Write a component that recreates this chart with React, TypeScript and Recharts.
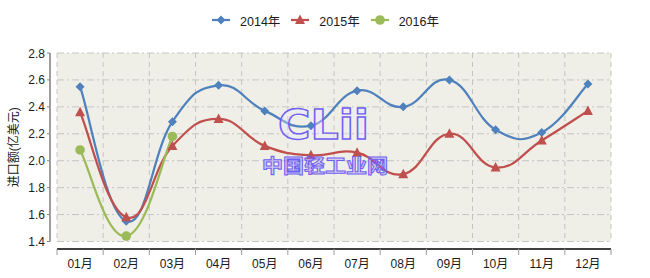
import React from 'react';
import {
  LineChart,
  Line,
  XAxis,
  YAxis,
  CartesianGrid,
  Legend,
} from 'recharts';

const MONTHS = ['01月', '02月', '03月', '04月', '05月', '06月', '07月', '08月', '09月', '10月', '11月', '12月'];
const IMPORTS_2014 = [2.55, 1.55, 2.29, 2.56, 2.37, 2.26, 2.52, 2.4, 2.6, 2.23, 2.21, 2.57];
const IMPORTS_2015 = [2.36, 1.58, 2.11, 2.31, 2.11, 2.04, 2.06, 1.9, 2.2, 1.95, 2.15, 2.37];
const IMPORTS_2016 = [2.08, 1.44, 2.18, null, null, null, null, null, null, null, null, null];
const Y_TICKS = [1.4, 1.6, 1.8, 2.0, 2.2, 2.4, 2.6, 2.8];

const SERIES = [
  { key: 'y2014', name: '2014年', color: '#4f81bd', shape: 'diamond' },
  { key: 'y2015', name: '2015年', color: '#c0504d', shape: 'triangle' },
  { key: 'y2016', name: '2016年', color: '#9bbb59', shape: 'circle' },
];

const data = MONTHS.map((m, i) => ({
  month: m,
  y2014: IMPORTS_2014[i],
  y2015: IMPORTS_2015[i],
  y2016: IMPORTS_2016[i],
}));

const W = 650;
const H = 278;
const MARGIN = { top: 33, right: 39, bottom: 0, left: 0 };
const Y_AXIS_W = 57;
const X_AXIS_H = 36.5;
const LEGEND_H = 20;
const PLOT_W = W - MARGIN.right - Y_AXIS_W;
const PLOT_H = H - MARGIN.top - LEGEND_H - X_AXIS_H;
const BAND = PLOT_W / MONTHS.length;
const FONT = "'Liberation Sans', 'Noto Sans CJK SC', sans-serif";

// Excel style smoothed line (bezier through the points)
const excelSmooth = (context: any) => {
  let pts: number[][] = [];
  const k = 0.22;
  return {
    areaStart() {},
    areaEnd() {},
    lineStart() {
      pts = [];
    },
    point(x: number, y: number) {
      pts.push([+x, +y]);
    },
    lineEnd() {
      if (!pts.length) return;
      context.moveTo(pts[0][0], pts[0][1]);
      for (let i = 0; i < pts.length - 1; i++) {
        const p0 = pts[Math.max(i - 1, 0)];
        const p1 = pts[i];
        const p2 = pts[i + 1];
        const p3 = pts[Math.min(i + 2, pts.length - 1)];
        context.bezierCurveTo(
          p1[0] + (p2[0] - p0[0]) * k,
          p1[1] + (p2[1] - p0[1]) * k,
          p2[0] - (p3[0] - p1[0]) * k,
          p2[1] - (p3[1] - p1[1]) * k,
          p2[0],
          p2[1]
        );
      }
    },
  };
};

const Marker = ({ shape, color, cx, cy }: any) => {
  if (shape === 'diamond') {
    return <polygon points={`${cx},${cy - 4.5} ${cx + 4.5},${cy} ${cx},${cy + 4.5} ${cx - 4.5},${cy}`} fill={color} />;
  }
  if (shape === 'triangle') {
    return <polygon points={`${cx},${cy - 5.5} ${cx + 5},${cy + 4} ${cx - 5},${cy + 4}`} fill={color} />;
  }
  return <circle cx={cx} cy={cy} r={4.8} fill={color} />;
};

const makeDot = (shape: string, color: string) => (props: any) => {
  const { cx, cy, index, value } = props;
  if (value == null || cy == null) return <g key={`d-${index}`} />;
  return (
    <g key={`d-${index}`}>
      <Marker shape={shape} color={color} cx={cx} cy={cy} />
    </g>
  );
};

const XTick = (props: any) => {
  const { x, y, payload, index } = props;
  const axisY = y + 7.5;
  return (
    <g>
      <line x1={x - BAND / 2} x2={x + BAND / 2} y1={axisY} y2={axisY} stroke="#000" strokeWidth={1.5} />
      <line x1={x - BAND / 2} x2={x - BAND / 2} y1={axisY} y2={axisY + 6} stroke="#9a9a9a" />
      {index === MONTHS.length - 1 && (
        <line x1={x + BAND / 2} x2={x + BAND / 2} y1={axisY} y2={axisY + 6} stroke="#9a9a9a" />
      )}
      <text x={x} y={y + 26} textAnchor="middle" fontSize={12} fontFamily={FONT} fill="#1a1a1a">
        {payload.value}
      </text>
    </g>
  );
};

const YTick = (props: any) => {
  const { x, y, payload } = props;
  const step = PLOT_H / (Y_TICKS.length - 1);
  const axisX = x - 7;
  return (
    <g>
      {payload.value < Y_TICKS[Y_TICKS.length - 1] && (
        <line x1={axisX} x2={axisX} y1={y} y2={y - step} stroke="#868686" strokeWidth={1.6} />
      )}
      <line x1={axisX - 3} x2={axisX} y1={y} y2={y} stroke="#868686" />
      <text x={x - 12} y={y + 4.5} textAnchor="end" fontSize={12} fontFamily={FONT} fill="#1a1a1a">
        {payload.value.toFixed(1)}
      </text>
    </g>
  );
};

const LegendContent = () => (
  <div
    style={{
      height: LEGEND_H,
      display: 'flex',
      justifyContent: 'center',
      alignItems: 'center',
      fontFamily: FONT,
      fontSize: 12.5,
      color: '#1a1a1a',
    }}
  >
    {SERIES.map((s) => (
      <div key={s.key} style={{ display: 'flex', alignItems: 'center', margin: '0 5px' }}>
        <svg width={20} height={12}>
          <line x1={1} x2={19} y1={6} y2={6} stroke={s.color} strokeWidth={2.25} />
          <Marker shape={s.shape} color={s.color} cx={10} cy={6} />
        </svg>
        <span style={{ marginLeft: 9 }}>{s.name}</span>
      </div>
    ))}
  </div>
);

const Watermark = () => (
  <svg width={W} height={H} style={{ position: 'absolute', left: 0, top: 0, pointerEvents: 'none' }}>
    <text
      x={278}
      y={139}
      fontSize={40}
      fontWeight={900}
      fontFamily="'DejaVu Sans', sans-serif"
      textLength={91}
      lengthAdjust="spacingAndGlyphs"
      fill="rgba(235,232,255,0.35)"
      stroke="#6f5ff2"
      strokeWidth={1.4}
    >
      CLii
    </text>
    <text
      x={262}
      y={173}
      fontSize={19}
      fontWeight={700}
      fontFamily="'Noto Sans CJK SC', sans-serif"
      textLength={126}
      lengthAdjust="spacingAndGlyphs"
      fill="rgba(140,120,255,0.3)"
      stroke="#6f5ff2"
      strokeWidth={1}
    >
      中国轻工业网
    </text>
  </svg>
);

export default function App() {
  return (
    <div style={{ position: 'absolute', left: 0, top: 0, width: W, height: H, background: '#fff' }}>
      <LineChart width={W} height={H} data={data} margin={MARGIN}>
        <CartesianGrid
          horizontal
          vertical={false}
          fill="#efefe8"
          stroke="#c4c4c4"
          strokeDasharray="7 3 2 3"
        />
        <CartesianGrid
          horizontal={false}
          vertical
          stroke="#c4c4c4"
          strokeDasharray="5 4"
          verticalCoordinatesGenerator={({ offset }: any) =>
            MONTHS.map((_, i) => offset.left + (i * offset.width) / MONTHS.length).concat(offset.left + offset.width)
          }
        />
        <XAxis
          dataKey="month"
          height={X_AXIS_H}
          padding={{ left: BAND / 2, right: BAND / 2 }}
          axisLine={false}
          tickLine={false}
          tickSize={0}
          tickMargin={0}
          interval={0}
          tick={<XTick />}
        />
        <YAxis
          width={Y_AXIS_W}
          domain={[1.4, 2.8]}
          ticks={Y_TICKS}
          axisLine={false}
          tickLine={false}
          tickSize={0}
          tickMargin={0}
          interval={0}
          tick={<YTick />}
          label={{
            value: '进口额(亿美元)',
            angle: -90,
            position: 'insideLeft',
            offset: 14,
            style: { textAnchor: 'middle', fontSize: 12, fontFamily: FONT, fill: '#1a1a1a' },
          }}
        />
        <Legend
          verticalAlign="top"
          height={LEGEND_H}
          content={<LegendContent />}
          wrapperStyle={{ top: 10, left: 0, width: W }}
        />
        {SERIES.map((s) => (
          <Line
            key={s.key}
            dataKey={s.key}
            name={s.name}
            type={excelSmooth as any}
            stroke={s.color}
            strokeWidth={2.25}
            dot={makeDot(s.shape, s.color)}
            activeDot={false}
            isAnimationActive={false}
          />
        ))}
      </LineChart>
      <Watermark />
    </div>
  );
}
